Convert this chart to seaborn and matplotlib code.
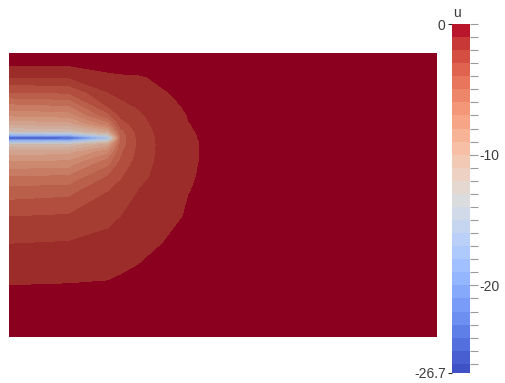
import numpy as np
import matplotlib
matplotlib.use("Agg")
import matplotlib.pyplot as plt
from matplotlib.colors import ListedColormap, BoundaryNorm
from matplotlib import font_manager
import seaborn as sns

# ---------------- data (field u sampled on a non-uniform grid) ----------------
x_pos = [0, 60, 99, 112, 130, 155, 180, 200, 260, 428]
y_pos = [0, 50, 90, 120, 145, 160, 175, 185, 192, 196, 199, 202, 206, 213, 222, 232, 245, 260, 284]

u_x0 = [0, -0.97, -1.9, -3.0, -4.5, -6.0, -8.0, -9.6, -12.0, -19.0, -26.7, -19.0, -12.0, -9.8, -7.8, -6.2, -4.0, -2.0, 0]
u_x60 = [0, -0.93, -1.8, -2.85, -4.3, -5.8, -7.8, -9.4, -11.8, -18.5, -26.7, -18.5, -11.8, -9.5, -7.5, -5.9, -3.8, -1.9, 0]
u_x99 = [0, -0.9, -1.55, -2.3, -3.0, -3.9, -5.5, -7.3, -9.5, -13.0, -18.0, -13.0, -9.5, -6.5, -4.3, -2.8, -2.0, -1.25, 0]
u_x112 = [0, -0.85, -1.35, -2.0, -2.6, -3.1, -3.8, -4.2, -4.5, -4.6, -4.6, -4.6, -4.3, -3.5, -2.7, -2.2, -1.75, -1.15, 0]
u_x130 = [0, -0.75, -1.2, -1.6, -1.95, -2.3, -2.55, -2.7, -2.75, -2.72, -2.7, -2.65, -2.55, -2.4, -2.2, -1.85, -1.5, -1.1, 0]
u_x155 = [0, -0.6, -0.95, -1.25, -1.45, -1.6, -1.65, -1.65, -1.65, -1.65, -1.65, -1.62, -1.6, -1.5, -1.35, -1.2, -1.05, -0.8, 0]
u_x180 = [0, -0.55, -0.78, -0.92, -1.01, -1.04, -1.05, -1.05, -1.05, -1.05, -1.04, -1.04, -1.03, -1.01, -0.97, -0.9, -0.78, -0.62, 0]
u_x200 = [0, -0.5, -0.7, -0.83, -0.9, -0.93, -0.95, -0.95, -0.95, -0.95, -0.95, -0.94, -0.93, -0.91, -0.87, -0.82, -0.72, -0.58, 0]
u_x260 = [0, -0.35, -0.5, -0.6, -0.66, -0.69, -0.7, -0.7, -0.7, -0.7, -0.7, -0.7, -0.69, -0.68, -0.65, -0.62, -0.55, -0.45, 0]
u_x428 = [0, 0, 0, 0, 0, 0, 0, 0, 0, 0, 0, 0, 0, 0, 0, 0, 0, 0, 0]

u_min, u_max = -26.7, 0.0
band_edges = [-26.7] + list(range(-26, 1))
major_ticks = [-20, -10]
range_labels = ["-26.7", "0"]
bar_title = "u"

# ---------------- build field ----------------
U = np.column_stack([u_x0, u_x60, u_x99, u_x112, u_x130, u_x155, u_x180, u_x200, u_x260, u_x428])
X, Y = np.meshgrid(x_pos, y_pos)

n_bands = len(band_edges) - 1
cw = sns.color_palette("coolwarm", as_cmap=True)
centers = (np.array(band_edges[:-1]) + np.array(band_edges[1:])) / 2
tc = (centers - u_min) / (u_max - u_min)
base_colors = np.array([cw(v)[:3] for v in tc])
cmap_bar = ListedColormap(base_colors)
# shading of the lit surface (warm end rendered darker)
shade = np.interp(tc, [0, 0.4, 0.6, 1.0], [0.95, 0.92, 0.86, 0.76])
surf = np.clip(base_colors * shade[:, None], 0, 1)
surf[-1] = [0.545, 0.0, 0.12]
cmap_surf = ListedColormap(surf)
norm = BoundaryNorm(band_edges, n_bands)

# ---------------- fonts ----------------
sns.set_style("white")
names = {f.name for f in font_manager.fontManager.ttflist}
lab_family = ["Liberation Sans Narrow"] if "Liberation Sans Narrow" in names else ["Liberation Sans"]
lab_size = 11 if "Liberation Sans Narrow" in names else 10
plt.rcParams["font.family"] = lab_family + ["DejaVu Sans"]

# ---------------- figure ----------------
W, H = 505, 383
fig = plt.figure(figsize=(W / 100, H / 100), dpi=100)
ax = fig.add_axes([9 / W, (H - 337) / H, 428 / W, 284 / H])
ax.contourf(X, Y, U, levels=band_edges, cmap=cmap_surf, norm=norm, antialiased=False)
ax.set_xlim(0, 428)
ax.set_ylim(0, 284)
ax.set_axis_off()

# colour bar
cax = fig.add_axes([452 / W, (H - 373) / H, 18 / W, 349 / H])
sm = plt.cm.ScalarMappable(norm=norm, cmap=cmap_bar)
cb = fig.colorbar(sm, cax=cax, boundaries=band_edges, spacing="proportional")
cb.outline.set_visible(False)
cax.set_ylim(u_min, u_max)
cax.yaxis.set_ticks_position("right")
cax.set_yticks(major_ticks)
cax.set_yticklabels([str(v) for v in major_ticks])
cax.set_yticks(list(range(-26, 1)), minor=True)
cax.tick_params(axis="y", which="major", direction="inout", length=11.5, width=0.8,
                color="#9a9a9a", labelsize=lab_size, labelcolor="#3c3c3c", pad=1)
cax.tick_params(axis="y", which="minor", direction="out", length=5.8, width=0.8, color="#9a9a9a")

sec = cax.secondary_yaxis("left")
sec.set_yticks([u_min, u_max])
sec.set_yticklabels(range_labels)
sec.tick_params(axis="y", length=3, width=0.8, pad=1.5, labelsize=lab_size, labelcolor="#3c3c3c")
for sp in sec.spines.values():
    sp.set_visible(False)
ticks = sec.yaxis.get_major_ticks()
ticks[0].tick1line.set_color(base_colors[0])
ticks[1].tick1line.set_color("#e89aa8")

cax.text(0.25, 1.012, bar_title, transform=cax.transAxes, ha="center", va="bottom",
         fontsize=lab_size, color="#3c3c3c")

fig.savefig("out.png", dpi=100, facecolor="white")
